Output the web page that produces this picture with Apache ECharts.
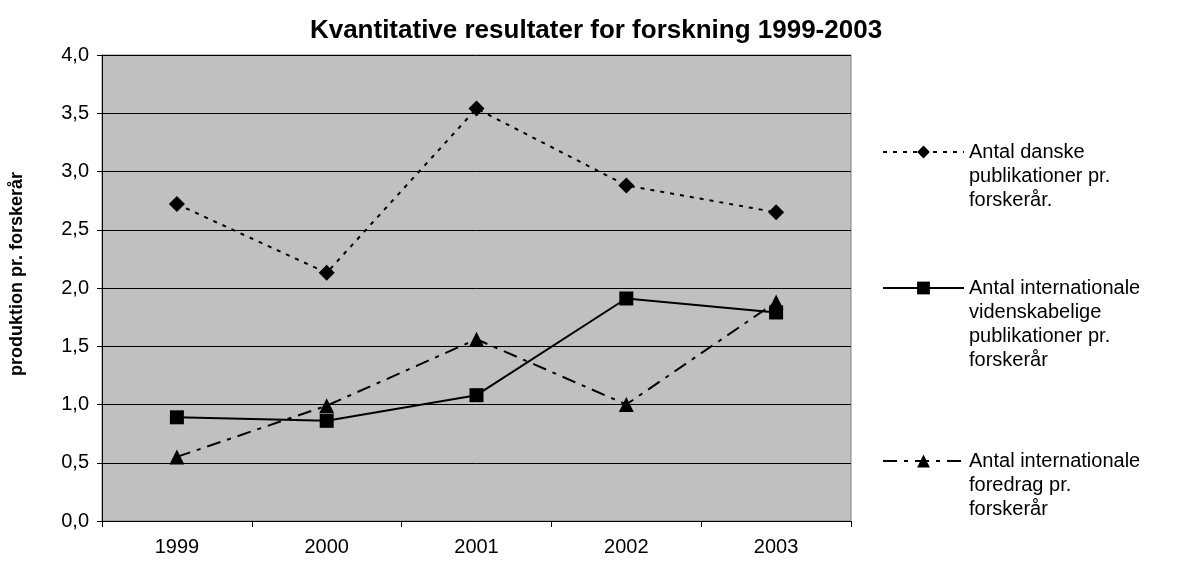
<!DOCTYPE html>
<html>
<head>
<meta charset="utf-8">
<script src="https://cdn.jsdelivr.net/npm/echarts@6/dist/echarts.min.js"></script>
<style>html,body{margin:0;padding:0;background:#fff}#c{width:1177px;height:561px}</style>
</head>
<body>
<div id="c"></div>
<script>
const years = ['1999', '2000', '2001', '2002', '2003'];
const danske = [2.72, 2.13, 3.54, 2.88, 2.65];
const internationalePub = [0.89, 0.86, 1.08, 1.91, 1.79];
const foredrag = [0.55, 0.99, 1.56, 1.00, 1.88];
const names = [
  'Antal danske\npublikationer pr.\nforskerår.',
  'Antal internationale\nvidenskabelige\npublikationer pr.\nforskerår',
  'Antal internationale\nforedrag pr.\nforskerår'
];
const FONT = '"Liberation Sans", Arial, sans-serif';
const chart = echarts.init(document.getElementById('c'), null, {renderer: 'canvas'});
function legendFor(name, top) {
  return {
    data: [name], left: 882, top: top, orient: 'vertical', padding: 0,
    itemWidth: 81, itemHeight: 16, selectedMode: false,
    formatter: n => '\n'.repeat(n.split('\n').length - 1) + n,
    textStyle: {fontFamily: FONT, fontSize: 20, color: '#000', lineHeight: 24}
  };
}
chart.setOption({
  animation: false,
  backgroundColor: '#fff',
  title: {
    text: 'Kvantitative resultater for forskning 1999-2003',
    left: 591, top: 13, textAlign: 'center',
    textStyle: {fontFamily: FONT, fontSize: 26, fontWeight: 'bold', color: '#000'}
  },
  legend: [legendFor(names[0], 92), legendFor(names[1], 204), legendFor(names[2], 401)],
  grid: {left: 100, right: 326, top: 55, bottom: 40, show: true, backgroundColor: '#C0C0C0', borderColor: '#808080', borderWidth: 1, containLabel: false},
  xAxis: {
    type: 'category', data: years, boundaryGap: true,
    axisLine: {lineStyle: {color: '#000', width: 1}},
    axisTick: {show: true, length: 6, lineStyle: {color: '#000'}},
    axisLabel: {fontFamily: FONT, fontSize: 20, color: '#000', margin: 16}
  },
  yAxis: {
    type: 'value', min: 0, max: 4, interval: 0.5,
    name: 'produktion pr. forskerår', nameLocation: 'middle', nameGap: 76, nameRotate: 90,
    nameTextStyle: {fontFamily: FONT, fontSize: 18, fontWeight: 'bold', color: '#000', padding: [0, 0, 0, 28]},
    axisLine: {show: true, lineStyle: {color: '#000', width: 1}},
    axisTick: {show: true, length: 5, lineStyle: {color: '#000'}},
    axisLabel: {fontFamily: FONT, fontSize: 20, color: '#000', margin: 13,
      formatter: v => v.toFixed(1).replace('.', ',')},
    splitLine: {show: true, lineStyle: {color: '#000', width: 1}}
  },
  series: [
    {name: names[0], type: 'line', data: danske, symbol: 'diamond', symbolSize: 16,
      lineStyle: {color: '#000', width: 2, type: [4, 6]}, itemStyle: {color: '#000'}},
    {name: names[1], type: 'line', data: internationalePub, symbol: 'rect', symbolSize: 14,
      lineStyle: {color: '#000', width: 2, type: 'solid'}, itemStyle: {color: '#000'}},
    {name: names[2], type: 'line', data: foredrag, symbol: 'triangle', symbolSize: 15,
      lineStyle: {color: '#000', width: 2, type: [14, 7, 4, 7]}, itemStyle: {color: '#000'}}
  ]
});
</script>
</body>
</html>
